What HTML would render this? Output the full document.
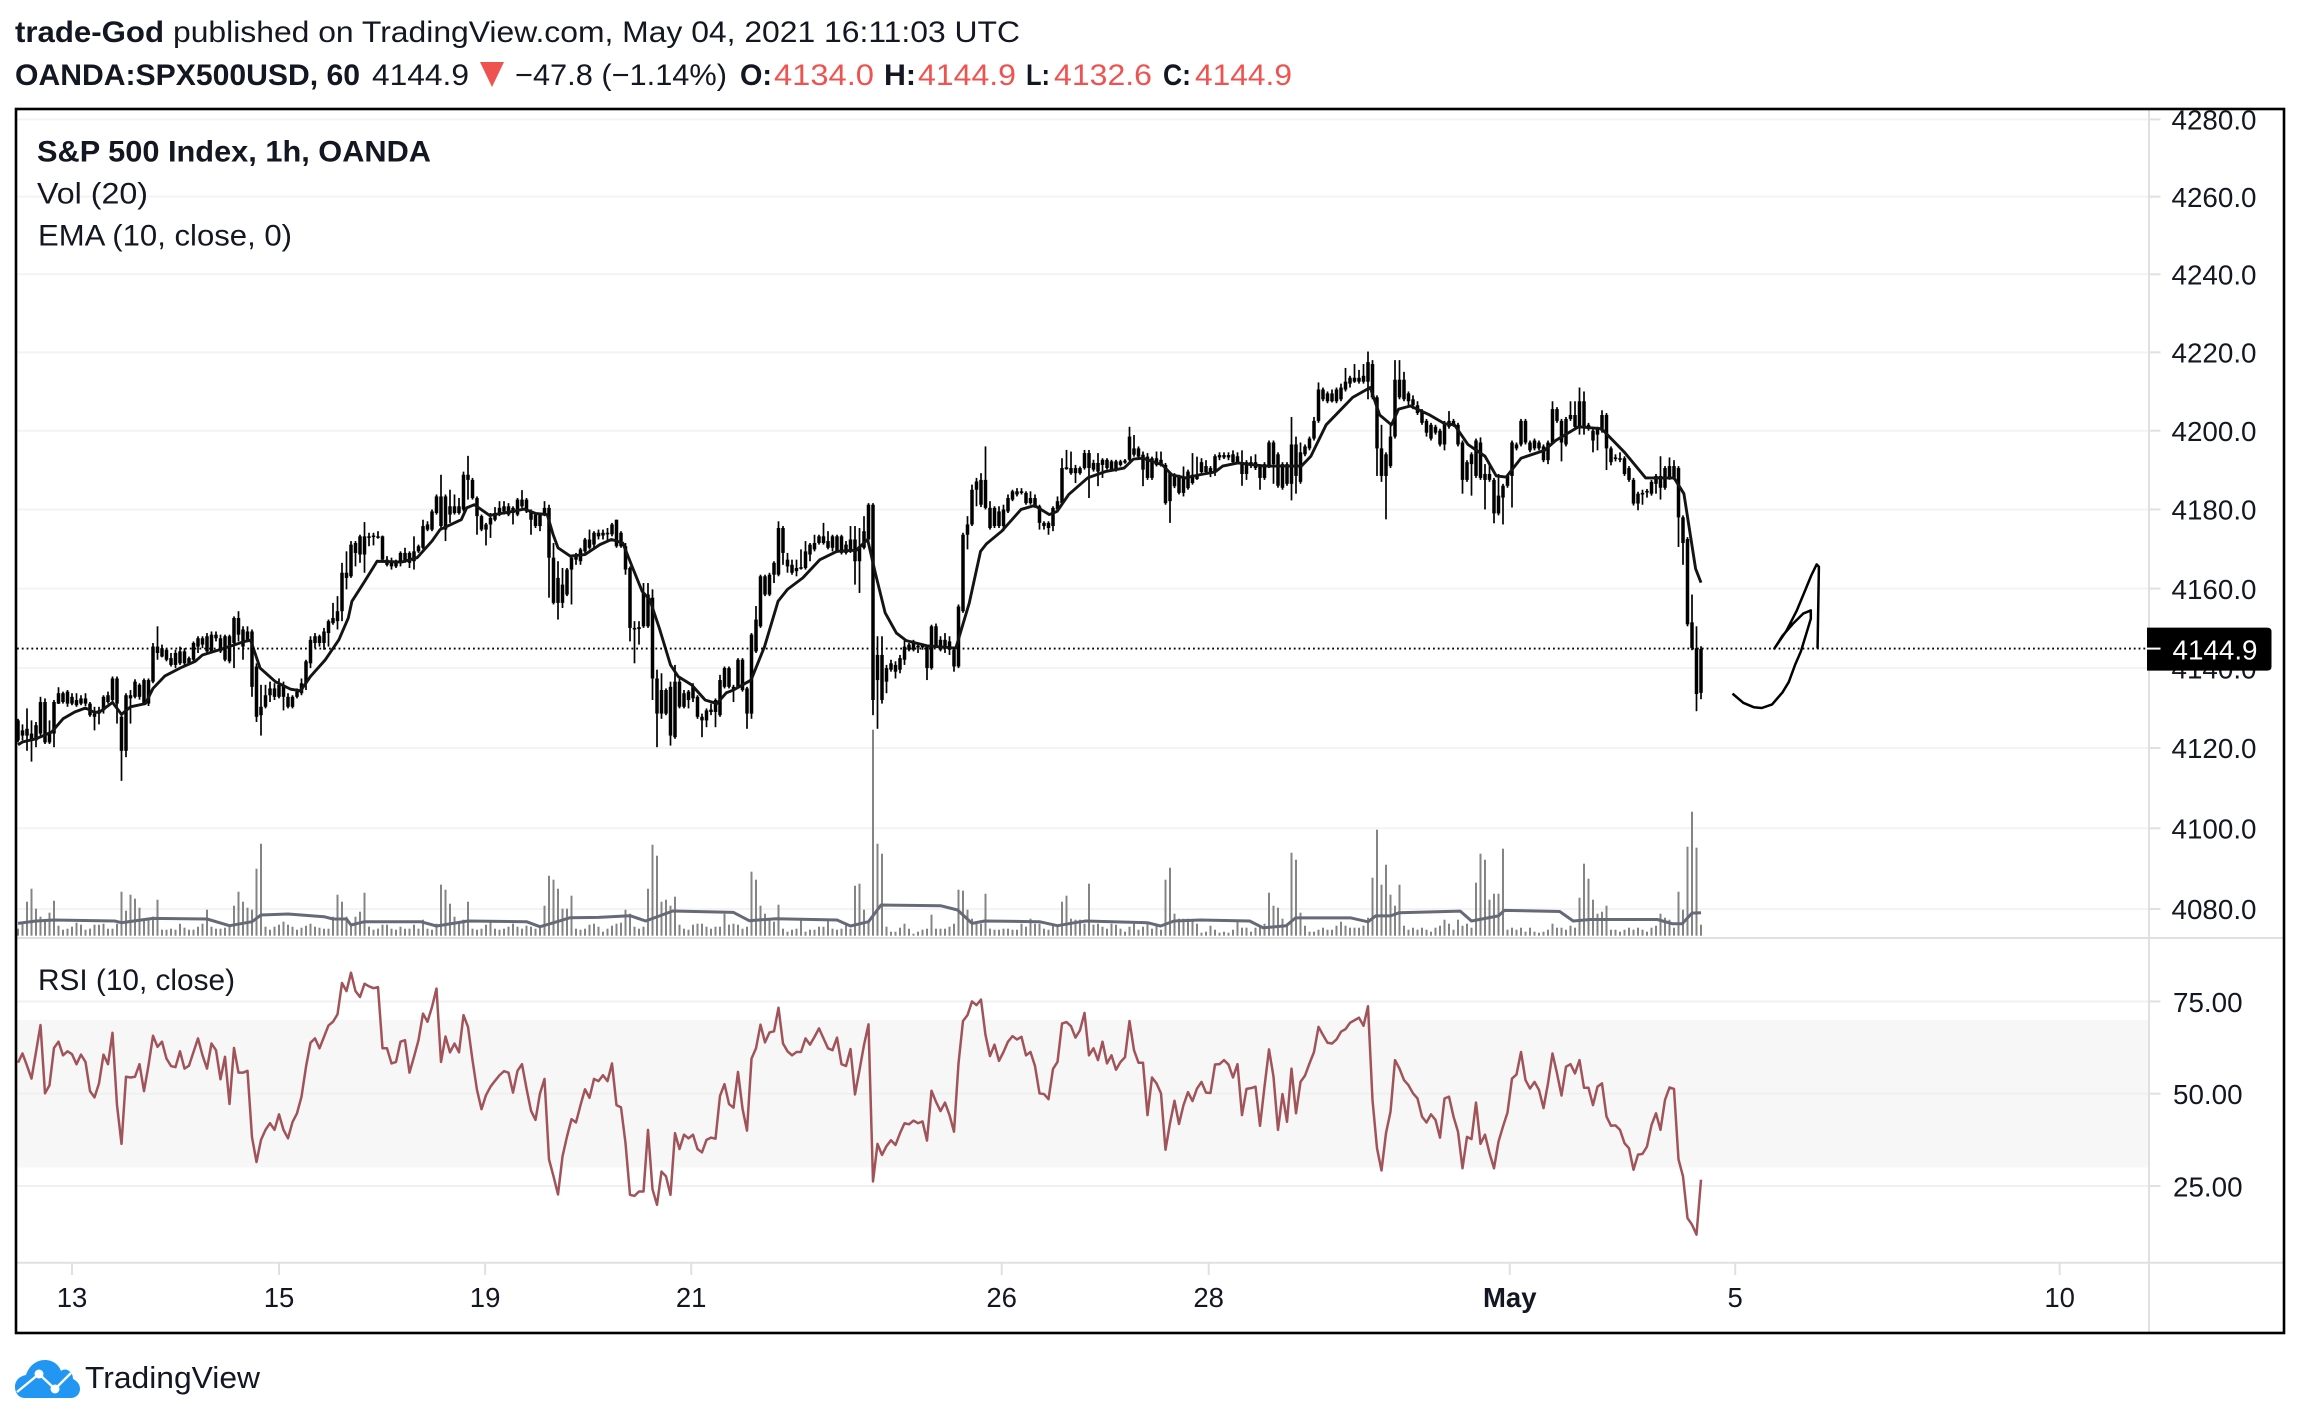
<!DOCTYPE html>
<html lang="en">
<head>
<meta charset="utf-8">
<title>S&amp;P 500 Index, 1h, OANDA</title>
<style>
html,body{margin:0;padding:0;background:#fff;}
svg{display:block;}
text{font-family:"Liberation Sans",sans-serif;fill:#131722;}
.b{font-weight:bold;}
.r{fill:#ef5350;}
</style>
</head>
<body>
<svg id="page" xmlns="http://www.w3.org/2000/svg" width="2299" height="1424" viewBox="0 0 2299 1424">
<defs>
<clipPath id="main-clip"><rect x="17" y="110" width="2132" height="828"/></clipPath>
<clipPath id="rsi-clip"><rect x="17" y="939" width="2132" height="323"/></clipPath>
</defs>
<g id="back-layer"></g>
<g id="vol-layer" clip-path="url(#main-clip)"></g>
<g id="candle-layer" clip-path="url(#main-clip)"></g>
<g id="line-layer" clip-path="url(#main-clip)"></g>
<g id="rsi-layer" clip-path="url(#rsi-clip)"></g>
<g id="axis-layer"></g>

<text class="b" x="15" y="42" font-size="30" textLength="149" lengthAdjust="spacingAndGlyphs">trade-God</text>
<text x="173" y="42" font-size="30" textLength="847" lengthAdjust="spacingAndGlyphs">published on TradingView.com, May 04, 2021 16:11:03 UTC</text>
<text class="b" x="15" y="85" font-size="30" textLength="345" lengthAdjust="spacingAndGlyphs">OANDA:SPX500USD, 60</text>
<text x="372" y="85" font-size="30" textLength="97" lengthAdjust="spacingAndGlyphs">4144.9</text>
<polygon points="480,62 504,62 492,87" fill="#ef5350"/>
<text x="515" y="85" font-size="30" textLength="212" lengthAdjust="spacingAndGlyphs">−47.8 (−1.14%)</text>
<text class="b" x="740" y="85" font-size="30" textLength="32" lengthAdjust="spacingAndGlyphs">O:</text>
<text class="r" x="774" y="85" font-size="30" textLength="100" lengthAdjust="spacingAndGlyphs">4134.0</text>
<text class="b" x="884" y="85" font-size="30" textLength="32" lengthAdjust="spacingAndGlyphs">H:</text>
<text class="r" x="918" y="85" font-size="30" textLength="98" lengthAdjust="spacingAndGlyphs">4144.9</text>
<text class="b" x="1026" y="85" font-size="30" textLength="24" lengthAdjust="spacingAndGlyphs">L:</text>
<text class="r" x="1054" y="85" font-size="30" textLength="98" lengthAdjust="spacingAndGlyphs">4132.6</text>
<text class="b" x="1163" y="85" font-size="30" textLength="28" lengthAdjust="spacingAndGlyphs">C:</text>
<text class="r" x="1195" y="85" font-size="30" textLength="97" lengthAdjust="spacingAndGlyphs">4144.9</text>

<text class="b" x="37" y="161.5" font-size="30" textLength="394" lengthAdjust="spacingAndGlyphs">S&amp;P 500 Index, 1h, OANDA</text>
<text x="37" y="203.5" font-size="30" textLength="111" lengthAdjust="spacingAndGlyphs">Vol (20)</text>
<text x="38" y="245.5" font-size="30" textLength="254" lengthAdjust="spacingAndGlyphs">EMA (10, close, 0)</text>
<text x="38" y="990" font-size="30" textLength="197" lengthAdjust="spacingAndGlyphs">RSI (10, close)</text>

<rect x="16" y="109" width="2268" height="1224" fill="none" stroke="#000" stroke-width="2.6"/>

<g>
<path fill="#2196f3" d="M25 1398 C18 1398 15 1392 15 1387 C15 1380 20 1376 26 1375 C29 1366 36 1360 45 1360 C53 1360 59 1365 61 1371 C63 1369 67 1369 69 1371 C72 1373 73 1376 73 1379 C77 1381 80 1384 80 1389 C80 1394 76 1398 71 1398 Z"/>
<path fill="none" stroke="#fff" stroke-width="2.4" d="M17 1392 L39 1374 L55 1389 L71 1373"/>
<circle cx="39" cy="1374" r="4.5" fill="#fff"/>
<circle cx="55" cy="1389" r="4.5" fill="#fff"/>
</g>
<text x="85" y="1388" font-size="31" textLength="175" lengthAdjust="spacingAndGlyphs">TradingView</text>
</svg>

<script>
// Price values (all candles are drawn black).
const bodyTops = [
4126.9,4124.4,4124.8,4123.6,4125.7,4131.5,4131.5,4124,4131.5,4133.7,
4133.7,4134.1,4132.8,4132,4132.4,4132.4,4131.1,4128.6,4129.4,4132.8,
4133.2,4137.4,4137.4,4127.8,4133.2,4133.2,4136.6,4135.8,4137,4137,
4145.4,4145.4,4145,4144.6,4142.5,4143.8,4144.2,4144.2,4142.5,4146.3,
4147.5,4147.5,4148,4148.4,4148.4,4147.5,4148,4148,4152.6,4152.6,
4149.7,4149.2,4149.2,4140.4,4130.3,4133.2,4134.9,4134.9,4135.8,4135.8,
4132.8,4132.8,4134.1,4136.2,4141.7,4147.1,4148,4148,4149.2,4151.8,
4152.6,4154.3,4164,4164,4171.1,4171.5,4173.2,4173.2,4173.2,4173.4,
4173.2,4173.2,4167.3,4166.9,4166.5,4169,4169,4169,4169.4,4170.7,
4175.8,4176.2,4179.5,4183.3,4183.3,4183.3,4180.8,4180.8,4180.8,4188.8,
4188.8,4187.5,4182.9,4178.3,4176.2,4177.9,4179.1,4180.4,4180.8,4180.8,
4180.4,4182.5,4182.5,4182.5,4179.5,4178.7,4178.7,4180.4,4180.4,4167.8,
4162.7,4161,4164.8,4167.8,4168.2,4169.9,4172.4,4172.4,4174.1,4174.1,
4174.1,4174.1,4176.2,4177.4,4174.1,4170.7,4165.2,4150.1,4150.3,4158.9,
4158.5,4157.7,4137.4,4134.5,4134.5,4135.3,4136.6,4136.6,4133.7,4134.1,
4135.3,4132.8,4127.8,4129.4,4129.6,4132,4137,4140,4140,4135.3,
4142.1,4142.1,4134.9,4148.4,4152.2,4163.1,4163.1,4163.5,4166.5,4175.3,
4175.3,4167.3,4166,4165.2,4165.4,4169.4,4171.1,4171.5,4173.2,4173.2,
4172,4173.2,4173.2,4173.2,4171.1,4172.4,4172.4,4170.7,4174.5,4181.2,
4181.2,4143.3,4143.3,4140,4141.2,4140.8,4142.5,4145.4,4145.9,4146.3,
4145.6,4145.6,4145.4,4150.5,4150.5,4147.1,4147.1,4146.7,4144.6,4155.5,
4173.6,4176.2,4185,4187.1,4187.5,4187.5,4180.4,4180.4,4179.5,4180,
4182.9,4184.6,4184.6,4184.6,4184.2,4182.9,4182.9,4180.8,4176.6,4176.6,
4180.4,4182.1,4190.5,4190.7,4190.5,4190.5,4190.5,4194.3,4194.3,4191.8,
4191.8,4192.6,4192.6,4192.2,4192.2,4192.2,4192.4,4198.5,4195.5,4195.5,
4193.9,4193.4,4193,4193,4192.6,4191.3,4189.2,4188.8,4188.4,4188.4,
4189.6,4188.8,4188.4,
4192,4191,4190.5,4193.5,4193.8,4193.8,4193.8,4194,4193.5,4192,
4192,4192,4192,4191,4191.5,4197,4197,4194,4191.5,4191.5,
4196.5,4196.5,4194.5,4196,4198,4202.5,4210.5,4210.5,4209.5,4209.5,
4210.5,4211,4212.5,4213.5,4213.5,4213.5,4214,4217.5,4217,4208.5,
4195.5,4194,4198.5,4213,4213,4213,4209.5,4208,4206.5,4205,
4202.5,4201.5,4201,4200,4202,4202.5,4202.5,4201.5,4197,4192,
4194,4197.5,4197,4189,4189,4187.5,4183.5,4186,4188.5,4197,
4196.5,4202.5,4202.5,4197,4197.5,4197,4196,4197,4205.5,4205.5,
4202.5,4203,4204,4204,4207.5,4207.5,4201.5,4200,4200.5,4204,
4204,4195.5,4193.2,4193,4193,4190.5,4187.5,4184,4184.2,4184.7,
4187,4188.5,4188.5,4190.5,4191,4191,4190.5,4178,4172.5,4151.5,
4145,4144.8];
const bodyBottoms = [
4121.9,4123.1,4123.1,4121.9,4121.9,4123.6,4121.4,4121.4,4123.6,4131.1,
4131.5,4131.1,4131.1,4130.7,4131.1,4131.1,4128.2,4127.8,4128.6,4129.4,
4131.5,4132,4131.1,4119.3,4119.3,4132.4,4132.8,4132.8,4131.1,4131.1,
4136.6,4143.8,4142.9,4142.1,4140.8,4140.8,4141.2,4141.2,4141.2,4142.1,
4145.4,4145.9,4144.2,4144.2,4147.5,4144.2,4142.1,4141.7,4146.3,4148.4,
4145.4,4147.1,4135.3,4127.8,4128.2,4130.3,4133.2,4132.8,4132.8,4132.8,
4130.3,4130.3,4132.8,4133.7,4136.2,4141.2,4146.3,4146.3,4146.3,4148.8,
4151.3,4151.8,4154.3,4162.7,4163.1,4169,4168.6,4168.6,4172.8,4173,
4173,4167.3,4166,4165.6,4165.6,4166.5,4166.9,4166.5,4166.9,4169.4,
4170.3,4174.9,4174.9,4179.1,4175.8,4174.9,4178.7,4179.1,4179.1,4180,
4187.5,4182.9,4178.3,4174.9,4174.9,4176.2,4177.4,4178.7,4179.5,4178.7,
4179.1,4178.7,4180.8,4179.5,4177.4,4175.8,4175.8,4178.7,4167.8,4156.4,
4156.4,4156.4,4158.5,4164.8,4167.3,4166.9,4169.4,4170.3,4171.1,4173.2,
4173.4,4173.7,4173.7,4170.7,4170.7,4164.8,4150.1,4149.7,4149.8,4150.5,
4150.5,4137.4,4128.6,4128.6,4128.6,4123.1,4122.7,4130.3,4130.3,4132,
4132.4,4127.8,4126.9,4126.9,4129,4129,4128.2,4135.3,4135.3,4134.5,
4135.3,4134.5,4128.6,4128.6,4144.2,4150.5,4158.5,4158.5,4163.5,4163.5,
4169,4165.6,4164,4164.4,4165,4165.2,4168.6,4169.9,4171.5,4171.5,
4170.3,4170.3,4169.4,4169,4169,4169.4,4166.9,4166.9,4170.3,4172.4,
4132,4137,4132,4136.6,4139.6,4139.1,4139.6,4142.1,4144.6,4144.6,
4145.2,4145.2,4140,4140,4145.4,4144.6,4145.4,4144.6,4140.4,4140.4,
4154.3,4173.6,4176.2,4185,4181.2,4180.4,4175.3,4175.8,4175.8,4175.8,
4179.5,4182.5,4183.8,4184.2,4181.6,4181.6,4180.8,4176.6,4175.8,4175.3,
4175.8,4180,4181.6,4190.2,4189.2,4189.2,4189.2,4190.5,4190.5,4190.1,
4189.6,4191.3,4190.5,4190.1,4190.1,4191.3,4191.9,4192.6,4193.9,4193.4,
4190.1,4188,4188,4191.3,4191.3,4181.6,4182.1,4185.9,4184.2,4184.2,
4185.4,4186.7,4187.7,
4189.5,4189.5,4189,4189.5,4193.2,4193.2,4193.2,4192,4192,4189,
4189,4191,4190.5,4188,4188,4191,4191.5,4186,4185.5,4186.5,
4186.5,4188.5,4187,4194,4195.5,4198,4202.5,4208,4207.5,4207.5,
4207.5,4208,4210.5,4212,4212.5,4212.5,4212.5,4212.5,4208.5,4195.5,
4188.5,4188.5,4191,4198.5,4208.5,4208,4207.5,4206.5,4204.5,4202,
4199.5,4198,4199.5,4196.5,4196.5,4201,4201.5,4196.5,4187.5,4187.5,
4191.5,4188.5,4188,4187.5,4187.5,4179,4179,4183,4186,4188.5,
4195.5,4196.5,4197,4195,4195.5,4195.5,4192.5,4192.5,4197,4202.5,
4197,4196.5,4203,4201,4201,4201,4200.5,4197.5,4199,4200,
4195.5,4192,4192.8,4192.6,4189,4187.5,4181.5,4181.5,4183.8,4184.3,
4184,4186.5,4185.5,4185.5,4188,4188,4178,4171.5,4151,4145,
4133.5,4133.8];
const highs = [
4127.3,4125.9,4129.9,4126.9,4126.5,4132.8,4132.4,4126.9,4132,4135.2,
4134.1,4134.5,4133.7,4133.7,4133.2,4133.7,4131.5,4130.3,4130.3,4133.2,
4134.1,4137.9,4137.9,4128.6,4133.7,4134.5,4137.2,4136.2,4137.4,4137.4,
4146.3,4150.5,4145.9,4145,4143.8,4144.6,4145.4,4145,4142.9,4146.7,
4148,4148,4148.8,4149.2,4149.2,4148.4,4148.4,4148.4,4153,4154.3,
4150.5,4150.5,4149.7,4141.2,4135.8,4135.8,4136.6,4136.2,4137.4,4136.6,
4133.7,4133.2,4134.9,4137.4,4142.1,4148,4148.8,4148.4,4150.1,4152.2,
4156.4,4158.1,4166.5,4169.4,4172,4172,4173.6,4176.8,4174.1,4174.1,
4174.5,4173.4,4168.2,4167.8,4167.3,4169.4,4170.3,4169.4,4173.2,4171.1,
4177.4,4177,4180,4183.8,4188.8,4183.8,4185,4183.8,4182.9,4189.6,
4193.6,4188,4183.3,4178.7,4176.6,4179.1,4180.6,4182.1,4182.1,4181.6,
4180.8,4182.9,4184.9,4182.9,4180,4179.1,4179.1,4182.1,4181.2,4171.5,
4166.9,4165.2,4165.2,4168.2,4169,4170.3,4172.8,4174.9,4174.5,4174.9,
4174.9,4175.3,4176.6,4177.4,4174.5,4171.5,4165.6,4151.8,4151.8,4161.4,
4161.4,4159.8,4139.6,4138.7,4134.9,4136.6,4140.8,4137.9,4134.5,4134.5,
4136.2,4133.2,4128.6,4129.9,4131.1,4132.4,4138.3,4140.4,4140.4,4135.8,
4142.5,4142.5,4135.3,4148.8,4155.6,4163.5,4163.5,4164,4166.9,4177,
4175.8,4169,4167.3,4167.3,4169.9,4172,4171.5,4173.6,4173.6,4176.6,
4174.5,4173.6,4173.6,4173.6,4172,4175.8,4175.8,4175.3,4178.3,4181.6,
4181.6,4148,4148,4140.8,4142.1,4141.7,4143.3,4147.1,4146.3,4147.1,
4146.3,4146.1,4145.9,4150.9,4151.2,4148,4148.8,4148,4145.4,4156,
4174.1,4178.3,4186.3,4188,4189.2,4196,4182.1,4180.8,4180.8,4181.2,
4183.8,4185,4185.4,4185.4,4184.6,4184.6,4183.8,4181.2,4177,4177,
4180.8,4183.3,4193,4195.1,4194.7,4191.3,4190.9,4195.1,4195.1,4192.6,
4194.3,4193,4193,4192.6,4192.6,4192.6,4192.8,4201,4198.9,4196,
4194.7,4194.3,4193.4,4194.7,4194.7,4191.8,4189.6,4189.2,4188.8,4190.9,
4190.1,4194.3,4193.4,
4193,4192.5,4191,4194,4194.5,4194.5,4194.5,4195,4194.5,4195,
4192.5,4193.5,4194,4191.5,4192,4197.5,4197.5,4194.5,4192,4192,
4203.5,4198.5,4197,4196.5,4198.5,4203.5,4212.3,4211,4210,4210.5,
4211,4212,4216,4214,4217,4215.5,4217,4220.2,4218,4209,
4201.5,4194.5,4201.5,4218,4218,4215,4210,4209,4207.5,4205.5,
4203,4202,4201.5,4200.5,4202.5,4205,4203,4202,4197.5,4192.5,
4194.5,4198,4198.3,4191.5,4191.5,4188,4189,4186.5,4189,4197.5,
4197,4203,4203,4197.5,4198,4197.5,4196.5,4197.5,4207.5,4206,
4203,4203.5,4207.5,4207.5,4211,4210,4202,4200.5,4201,4205.2,
4204.5,4196,4194,4194.5,4193.5,4191,4188,4184.5,4185,4185.2,
4187.5,4189,4193.5,4191,4193.2,4192.5,4191,4178.5,4173,4158.5,
4150.5,4145.5];
const lows = [
4121.4,4121.9,4119.3,4116.6,4120.2,4123.1,4121,4121,4120.2,4131,
4131.1,4130.3,4130.7,4130.3,4130.7,4130.5,4127.8,4124.4,4125.9,4128.6,
4131.1,4131.5,4126.1,4111.8,4117.7,4126.1,4132.4,4132.1,4130.7,4130.5,
4136.2,4142.1,4142.7,4141.7,4140.4,4140,4140.8,4140.6,4140.8,4141.7,
4143.8,4145,4143.8,4143.8,4146.7,4143.8,4141.7,4141.2,4140,4146.7,
4142.1,4146.7,4132.8,4126.5,4123.1,4129.9,4131.5,4132,4132.4,4129.4,
4129.9,4129.9,4132.4,4133.2,4134.5,4140,4145,4145.4,4144.6,4145.4,
4150.9,4149.7,4151.8,4159.8,4162.7,4165.6,4166.5,4164,4170.7,4170.9,
4172.6,4166.9,4165.6,4164.8,4165.2,4165.6,4166.5,4165.2,4164.8,4169,
4169.9,4174.5,4174.5,4178.7,4174.9,4172,4176.6,4178.7,4178.7,4179.5,
4182.5,4182.5,4173.6,4174.5,4170.9,4172.8,4177,4178.3,4178.7,4178.3,
4176.2,4178.3,4180.4,4179.1,4173.6,4175.3,4174.5,4178.3,4157.7,4156,
4152.2,4155.1,4158.1,4156,4166,4166,4169,4169.9,4170.3,4172.4,
4172.4,4172,4173.2,4170.3,4170.3,4163.5,4146.7,4141.2,4145.9,4150.1,
4150.1,4132,4120.2,4127.3,4128.2,4120.6,4122.3,4129.9,4129.9,4129.9,
4131.5,4127.3,4122.7,4125.2,4128.2,4125.2,4127.8,4134.9,4134.9,4131.5,
4134.9,4134.1,4124.8,4127.3,4143.8,4150.1,4158.1,4158.1,4161.4,4163.1,
4166,4164,4163.5,4163.1,4164.8,4164.8,4166.9,4169.4,4171.1,4171.1,
4169.9,4169.4,4169,4168.6,4168.6,4169,4161,4158.9,4169.9,4172,
4128.2,4124.8,4131.1,4133.7,4139.1,4137.4,4138.7,4140.8,4144.2,4144.2,
4143.8,4144.6,4137,4139.6,4145,4144.2,4143.8,4143.3,4139.1,4140,
4153.9,4169.9,4175.8,4180.8,4180.6,4180,4174.9,4175.3,4175.3,4174.5,
4179.1,4182.1,4183.3,4183.8,4181.2,4181.2,4180.4,4174.9,4174.9,4173.6,
4174.5,4179.5,4181.2,4190.1,4188.8,4186.7,4188.8,4190.1,4182.9,4189.6,
4185.9,4188,4190.1,4189.6,4189.6,4190.9,4191.6,4192.2,4193.4,4193,
4185.9,4187.5,4187.5,4190.9,4190.9,4181.2,4176.6,4185.4,4183.8,4183.3,
4185,4186.3,4187.5,
4189,4189,4188.2,4188.5,4192.5,4192.8,4192.5,4191.5,4191.5,4186,
4187.5,4190.5,4190,4185,4187.5,4190.5,4186.5,4185.5,4185,4186,
4182.3,4184,4186.5,4193.5,4195,4197.5,4202,4207.5,4207,4207.2,
4207,4207.5,4210,4211,4212.2,4212,4212,4208,4208,4188.5,
4187,4177.5,4190.5,4198,4208,4207.5,4206,4205.5,4204,4201.5,
4198.5,4197.5,4199,4196,4195,4200.5,4201,4196,4184,4187,
4183.5,4188,4187.5,4180,4187,4176.5,4178.5,4176.2,4185.5,4180.5,
4195,4196,4196.5,4194.5,4195,4195,4192,4191.5,4196.5,4202,
4192.2,4196,4202.5,4200.5,4199,4199,4200,4194.5,4195,4199.5,
4190,4191.2,4192.2,4192,4188.5,4187,4181,4179.8,4181.2,4183,
4183.5,4184,4182.5,4185,4187.5,4187.5,4170.5,4166,4150.5,4144.5,
4129.2,4132.2];
// Volume per bar, relative units (the reference prints no volume scale).
const volumes = [
7,12,34,47,27,19,16,23,35,10,6,7,9,13,11,6,7,11,11,12,
7,7,12,44,25,41,37,28,16,17,19,36,6,6,7,6,12,8,6,6,
9,12,26,9,7,7,8,9,30,44,34,28,26,67,92,9,6,9,11,14,
11,9,6,8,10,12,9,8,7,7,19,41,34,19,12,19,24,43,9,6,
7,11,11,7,6,9,7,7,11,7,16,7,6,12,51,46,32,19,14,16,
34,7,6,7,11,14,7,6,7,9,12,9,7,10,9,7,10,30,60,56,
47,27,27,40,7,6,7,11,12,9,4,7,10,12,13,26,22,9,7,9,
47,91,80,34,36,30,39,11,7,6,11,12,12,9,7,9,9,22,11,12,
11,7,9,64,56,30,22,16,14,31,7,4,6,7,17,4,6,6,9,9,
16,7,6,7,12,7,50,52,26,14,206,92,82,9,4,4,8,12,7,2,
4,6,7,21,7,7,7,9,12,46,45,26,17,12,12,42,7,6,6,7,
7,6,6,12,9,17,12,12,7,6,12,9,34,40,17,16,16,12,52,11,
12,9,7,12,11,7,4,9,12,6,9,12,7,11,6,56,68,22,17,17,
17,16,12,3,4,10,6,3,4,3,6,16,8,8,4,8,10,12,43,30,
28,17,10,83,76,23,10,4,4,6,8,6,6,10,14,10,8,8,8,10,
18,58,106,51,71,41,30,51,10,6,8,6,8,6,4,8,10,16,12,6,
16,10,12,8,53,82,76,36,42,42,87,6,8,6,8,4,8,4,3,4,
6,12,8,8,6,10,8,38,72,57,36,22,24,30,6,6,4,6,8,6,
8,6,4,8,10,22,18,16,8,44,26,89,124,88,11];
// Volume moving average: vertices.
const volMaBars = [0,4,8,21.5,23,30,42,47,52,54,60,68,70,73,74,77,89.5,93,100,113,116,118.5,122.7,129,136,139.5,145.5,159,162.5,168.5,182,185,189,191.8,205,208.8,212,214.8,227,231,234.8,237.3,251,253.9,256.9,262.7,273.7,276.7,281.8,283.9,296.2,300,301.7,305,306.9,320.5,323,329,330.3,342.6,345.6,349.4,364.3,367.7,369.8,372,374];
const volMaValues = [12.3,14.7,15.7,14.7,13,17.3,16.7,10,14,20.7,21.7,19,16.7,16.7,10.7,14,14,9.7,14.7,14,9,12.3,18,18.3,20,14.7,24.7,23.3,15,17,15.7,9.7,14,30.7,30,25.7,12.3,14.7,14,10,13,14.7,13,9.7,14.7,15.7,14.7,7.9,9.9,17.8,17.8,13.9,19.8,19.8,23,24.6,14.7,19.8,25.3,24.2,14.7,16.2,16.2,11.9,11.9,22.6,23];
// EMA (10): vertices.
const emaBars = [0,1,4,7.5,10,12.6,15,16.8,18,21,23,25,28.3,30,32.6,36,39.4,41,45.3,50.4,51.7,53.8,57.2,60.6,62.8,65,68.3,71.3,73.4,74.2,76.8,79.8,85.3,88.7,92,93.8,98.5,99.7,101.4,104.8,109,112.5,115,117.6,118.9,120,122.7,126,129.3,131.9,134.4,136.6,138.7,140.4,142.5,145,146.7,149.7,152.7,155.3,157.4,159,162.9,165.9,168.9,171,174.4,178.2,182,186.3,188.8,190.5,192.7,195.2,197.4,202,208.4,211.4,213.9,215.2,218.6,222.9,225.9,229.2,230.9,233.5,237.7,241.6,245.8,247.9,250,254.3,256.4,259.4,262.6,266,267.7,271.1,277,285.2,287.3,290.7,296.6,300.5,302.6,305.2,306.8,309.4,313.7,317,319.2,322.2,326,328.5,330.7,334,339.2,341.7,346.8,351.9,357,361.7,368,370.2,372.8,374];
const emaValues = [4120.8,4121.5,4122.3,4124,4127.3,4129,4130,4129,4128.9,4131.4,4128.4,4130.3,4131.1,4134.9,4138,4140,4141.7,4143.3,4144.8,4146.7,4147,4140,4136.6,4134.7,4134.3,4137.9,4142.1,4147.1,4152.6,4156.8,4161.4,4166.9,4166.7,4167.8,4172,4174.9,4177.4,4180.4,4181.2,4178.5,4179.3,4180.1,4179,4178.7,4173.7,4170.3,4168.2,4168.6,4171.1,4172.4,4171.5,4165.2,4159.3,4157.2,4150.1,4140.8,4137.9,4135.8,4132,4131.1,4133.8,4134.5,4137,4145.4,4156.8,4159.8,4162.7,4167.3,4169.4,4169.7,4172.4,4164,4153.9,4148.8,4146.9,4145.6,4145,4156.4,4169.4,4171.3,4174.5,4180,4181,4178.7,4179.5,4183.8,4188,4189.6,4190.5,4192.8,4193,4191.3,4188.8,4188,4188.8,4189.5,4191,4191.8,4191,4191,4193.5,4201.5,4208.5,4211,4204,4201.5,4205.5,4206.3,4204,4201.8,4201.5,4196.5,4193.5,4188.5,4188.2,4193,4195,4197.5,4201,4200.5,4194.5,4188,4188,4184,4165,4161.5];
// RSI (10) per bar.
const rsiValues = [
58.4,60.9,57.6,54.1,61.3,68.6,50.1,52.3,62.4,64.1,
60.4,61.5,60.7,58,60.6,58.6,50.7,49,52.8,60.6,
58,66.5,46.9,36.4,54.6,54.4,54.6,58,50.7,57.7,
65.7,62.7,64.1,59.5,57.5,57.2,61.5,56.8,57.6,61.3,
65,60.4,56.8,63.6,61.8,53.9,60,47.2,62.4,55.7,
55.7,56.2,38.2,31.5,37.5,40.2,42,40.2,44.4,40.2,
37.9,42.3,44.7,49.2,57.3,63.8,65,62.3,65.4,68.5,
69.5,71.5,80,77.8,82.8,77.8,76.2,79.8,79.1,78.6,
78.9,62.3,62.3,58.2,58.6,64.1,64.5,55.7,60,64.5,
71.7,69.5,73.5,78.5,58.6,65.5,61.2,63.6,61.2,71.3,
68.1,59.1,51,45.8,49.6,51.9,53.5,55,56.1,55.7,
50.3,56.2,58,51.4,45.4,42.9,50.1,54,32.2,27.6,
22.7,33,38.4,43.1,42.2,46.9,51.2,48.9,54,53.4,
55,53.4,58.2,46.9,46.3,36.6,22.6,22.3,23.5,23.5,
40.2,24.1,19.9,28.9,27.6,22.6,39.3,35,38.9,37.9,
38.9,35,34.1,37.5,38.1,37.8,49.4,52.6,47.2,46.2,
55.9,46,40,59.5,62.3,68.7,63.9,66.6,66.9,73.3,
63.6,61.5,60.4,61.3,
61.3,65,63.3,65.4,67.7,65,62.3,61.8,65.2,58,
57.5,62.1,49.8,56.4,63.2,68.8,26.2,36.4,33.4,35.8,
37.4,36.1,39.3,42,41.7,42.7,42,42.5,37.3,50.8,
47.8,45.3,47.6,44.2,39.7,58.2,69.7,71.3,75,74,
75.5,65.9,60.2,63.3,58.9,61.3,64.1,65.6,64.7,65.4,
60.4,61.3,57.5,50.1,49.9,48.5,56.7,58.6,69,69.4,
68.3,65.2,67.2,71.9,60.4,62.3,59.1,64.1,58.2,60.4,
56.5,58.6,59.9,69.7,61.8,58.4,58.4,44.2,54.4,52.8,
50.1,34.8,42,48.1,41.8,46.9,50.4,48,51.4,53.2,
50.3,50.2,57.9,58,59.1,57.9,54.4,58,44.2,51.3,
51.5,51.9,41.3,51.9,62,54.6,40.2,49.9,42.4,56.8,
44.7,53.2,54.9,58.2,61.3,68.1,65.9,63.8,63.6,64.7,
66.8,67.5,69.2,69.9,70.6,68.4,73.7,48.3,35.2,29.2,
39.3,45.1,59.1,56.8,53.7,52.3,50.1,48.7,43.8,42.2,
44.4,42.9,38.1,48.7,49.2,43.8,39.7,29.8,38.3,37.7,
47.6,36.4,38.9,33.9,29.8,37,41.1,44.9,
54.1,55.2,61.3,53.7,51.4,53.2,51,46.1,52.8,60.9,
55.5,49.5,57.3,58,55.5,59.1,51.6,51.6,46.9,51.9,
52.8,43.8,41.3,41.4,40.2,36.6,35.2,29.4,33.5,33.7,
35.7,41.5,44.7,40.2,48.3,51.7,51.3,32.2,27.6,16.3,
14.5,11.8,26.7];
// Hand-drawn brush annotation, in bar index and price.
const brushBars = [381,383.4,385.7,387.5,389.8,392.1,393.5,394.9,396.2,397.6,398.4,398.4,396.7,394.4,392.1,390.3,393,395.3,397.2,398.5,399.7,400.2,399.9];
const brushPrices = [4133.6,4131.3,4130.2,4130,4130.9,4133.9,4136.5,4140.8,4144.2,4149.4,4152.4,4154.5,4153.7,4151.1,4148.1,4144.9,4149.4,4154.5,4159.7,4163.3,4166.1,4165.5,4144.9];
// Axis contents.
const priceTicks = [4280,4260,4240,4220,4200,4180,4160,4140,4120,4100,4080];
const rsiTicks = [75,50,25];
const timeLabels = ["13","15","19","21","26","28","May","5","10"];
const timeTickBars = [12,58,103.8,149.6,218.6,264.6,331.5,381.6,453.7];
const lastPrice = 4144.9;
const rsiBandHigh = 70;
const rsiBandLow = 30;

const NS = "http://www.w3.org/2000/svg";
function xScale(i){ return 18 + 4.5 * i; }
function priceY(p){ return 430.7 + 16499 * Math.log(4200 / p); }
function rsiY(v){ return 1093.7 - (v - 50) * 3.69; }
function volY(v){ return 935.7 - v; }
function make(tag, parent, attrs){
  const e = document.createElementNS(NS, tag);
  for (const k in attrs) e.setAttribute(k, attrs[k]);
  parent.appendChild(e);
  return e;
}
function polyPoints(xs, ys, fx, fy){
  return xs.map(function(x, i){ return fx(x).toFixed(2) + "," + fy(ys[i]).toFixed(2); }).join(" ");
}
const back = document.getElementById("back-layer");
const axis = document.getElementById("axis-layer");
const volLayer = document.getElementById("vol-layer");
const candleLayer = document.getElementById("candle-layer");
const lineLayer = document.getElementById("line-layer");
const rsiLayer = document.getElementById("rsi-layer");

// RSI band
const band = make("rect", back, {x:17, y:rsiY(rsiBandHigh), width:2132, height:rsiY(rsiBandLow)-rsiY(rsiBandHigh), fill:"#f7f7f7"});



// Price grid, ticks, labels
priceTicks.forEach(function(p){
  const y = priceY(p);
  const g = make("line", back, {x1:17, x2:2149, y1:y, y2:y, stroke:"#f3f3f3", "stroke-width":2});
  
  
  const t = make("line", axis, {x1:2149, x2:2160.5, y1:y, y2:y, stroke:"#e0e0e0", "stroke-width":2});
  
  
  const l = make("text", axis, {x:2171.5, y:y+10.2, "font-size":27.8});
  
  
  l.textContent = p.toFixed(1);
});

// RSI grid, ticks, labels
rsiTicks.forEach(function(v){
  const y = rsiY(v);
  const g = make("line", back, {x1:17, x2:2149, y1:y, y2:y, stroke:"#f0f0f0", "stroke-width":2});
  
  
  const t = make("line", axis, {x1:2149, x2:2160.5, y1:y, y2:y, stroke:"#e0e0e0", "stroke-width":2});
  
  
  const l = make("text", axis, {x:2173, y:y+10.5, "font-size":27.8});
  
  
  l.textContent = v.toFixed(2);
});

// Volume bars
volumes.forEach(function(v, i){
  const bar = make("rect", volLayer, {x:xScale(i)-1, y:volY(v), width:2, height:v, fill:"#848484"});
  
  
});
const volMa = make("polyline", lineLayer, {points:polyPoints(volMaBars, volMaValues, xScale, volY), fill:"none", stroke:"#666a78", "stroke-width":3, "stroke-linejoin":"round"});



// Candles
bodyTops.forEach(function(top, i){
  const x = xScale(i);
  const wick = make("rect", candleLayer, {x:x-0.85, y:priceY(highs[i]), width:1.7, height:priceY(lows[i])-priceY(highs[i]), fill:"#000"});
  
  
  const body = make("rect", candleLayer, {x:x-1.75, y:priceY(top), width:3.5, height:Math.max(1.5, priceY(bodyBottoms[i])-priceY(top)), fill:"#000"});
  
  
});

// EMA
const ema = make("polyline", lineLayer, {points:polyPoints(emaBars, emaValues, xScale, priceY), fill:"none", stroke:"#141414", "stroke-width":2.9, "stroke-linejoin":"round"});



// Last price dotted line
const lastY = priceY(lastPrice);
const dotted = make("line", lineLayer, {x1:17, x2:2149, y1:lastY, y2:lastY, stroke:"#000", "stroke-width":1.8, "stroke-dasharray":"1.8 3"});



// Brush annotation
const brush = make("polyline", lineLayer, {points:polyPoints(brushBars, brushPrices, xScale, priceY), fill:"none", stroke:"#000", "stroke-width":2.5, "stroke-linejoin":"round"});



// RSI line
const rsiLine = make("polyline", rsiLayer, {points:polyPoints(rsiValues.map(function(v, i){ return i; }), rsiValues, xScale, rsiY), fill:"none", stroke:"#a0545a", "stroke-width":2.5, "stroke-linejoin":"round"});



// Axis lines
const axisV = make("line", axis, {x1:2149, x2:2149, y1:110, y2:1332, stroke:"#e0e0e0", "stroke-width":2});


const sep = make("line", axis, {x1:17, x2:2283, y1:938, y2:938, stroke:"#e0e0e0", "stroke-width":2});


const axisH = make("line", axis, {x1:17, x2:2283, y1:1262.7, y2:1262.7, stroke:"#e0e0e0", "stroke-width":2});



// Time ticks
timeLabels.forEach(function(lab, i){
  const x = xScale(timeTickBars[i]);
  const t = make("line", axis, {x1:x, x2:x, y1:1262.7, y2:1275, stroke:"#e0e0e0", "stroke-width":2});
  
  
  const l = make("text", axis, {x:x, y:1307, "font-size":27.5, "text-anchor":"middle"});
  
  
  if (lab === "May") l.setAttribute("font-weight", "bold");
  l.textContent = lab;
});

// Last price tag
const tag = make("path", axis, {d:"M2147 "+(lastY-21)+" H2267 Q2271.5 "+(lastY-21)+" 2271.5 "+(lastY-17)+" V"+(lastY+18)+" Q2271.5 "+(lastY+22)+" 2267 "+(lastY+22)+" H2147 Z", fill:"#000"});


const tagTick = make("line", axis, {x1:2147, x2:2160.5, y1:lastY, y2:lastY, stroke:"#fff", "stroke-width":2});


const tagText = make("text", axis, {x:2172.5, y:lastY+10.8, "font-size":27.8, style:"fill:#fff"});


tagText.textContent = lastPrice.toFixed(1);
</script>
</body>
</html>
